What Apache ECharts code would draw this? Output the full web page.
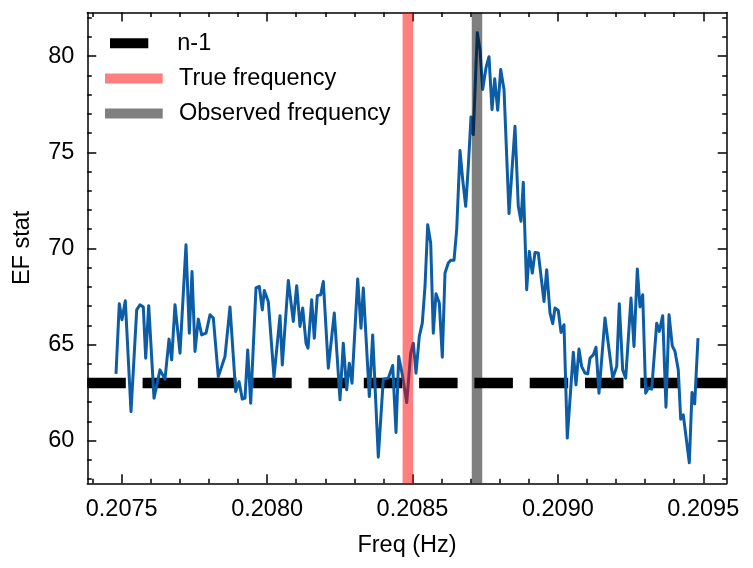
<!DOCTYPE html>
<html><head><meta charset="utf-8">
<script src="https://cdn.jsdelivr.net/npm/echarts@6/dist/echarts.min.js"></script>
<style>html,body{margin:0;padding:0;background:#fff}#c{width:753px;height:568px}</style>
</head><body><div id="c"></div>
<script>
const freq = [0.2074804,0.2074917,0.2075010,0.2075124,0.2075320,0.2075516,0.2075629,0.2075743,0.2075825,0.2075929,0.2076111,0.2076317,0.2076489,0.2076627,0.2076719,0.2076833,0.2077005,0.2077211,0.2077325,0.2077418,0.2077521,0.2077634,0.2077751,0.2077899,0.2078037,0.2078150,0.2078322,0.2078552,0.2078724,0.2078920,0.2079034,0.2079147,0.2079240,0.2079333,0.2079436,0.2079618,0.2079732,0.2079835,0.2079904,0.2080041,0.2080237,0.2080444,0.2080523,0.2080729,0.2080901,0.2081018,0.2081131,0.2081224,0.2081338,0.2081407,0.2081534,0.2081623,0.2081726,0.2081843,0.2081933,0.2082105,0.2082311,0.2082507,0.2082620,0.2082737,0.2082827,0.2082920,0.2083116,0.2083229,0.2083308,0.2083515,0.2083631,0.2083824,0.2083996,0.2084168,0.2084319,0.2084433,0.2084526,0.2084663,0.2084801,0.2084938,0.2085028,0.2085120,0.2085234,0.2085337,0.2085430,0.2085523,0.2085626,0.2085715,0.2085808,0.2085922,0.2086025,0.2086118,0.2086231,0.2086314,0.2086427,0.2086520,0.2086634,0.2086726,0.2086830,0.2086919,0.2087012,0.2087091,0.2087228,0.2087321,0.2087414,0.2087528,0.2087631,0.2087734,0.2087827,0.2087930,0.2088033,0.2088147,0.2088319,0.2088525,0.2088638,0.2088731,0.2088810,0.2088927,0.2089017,0.2089120,0.2089213,0.2089326,0.2089522,0.2089615,0.2089728,0.2089821,0.2089900,0.2090014,0.2090107,0.2090210,0.2090323,0.2090530,0.2090622,0.2090726,0.2090818,0.2090932,0.2091025,0.2091104,0.2091217,0.2091310,0.2091413,0.2091620,0.2091885,0.2092022,0.2092111,0.2092228,0.2092332,0.2092514,0.2092617,0.2092731,0.2092823,0.2092916,0.2093019,0.2093109,0.2093226,0.2093398,0.2093487,0.2093604,0.2093717,0.2093821,0.2093934,0.2094027,0.2094140,0.2094223,0.2094312,0.2094519,0.2094612,0.2094704,0.2094818];
const efStat = [63.47,67.12,66.29,67.28,61.51,66.8,67.07,66.95,64.29,67.02,62.21,63.68,63.2,65.28,64.2,67.07,64.55,70.19,65.59,68.8,64.64,66.32,65.5,65.59,66.55,66.38,63.33,64.38,66.95,62.55,63.07,62.16,62.21,64.72,61.95,67.94,68.02,66.8,67.81,67.24,63.3,66.5,63.94,68.33,66.2,68.06,65.94,66.9,65.07,64.81,67.33,65.33,67.54,67.59,68.28,63.77,66.64,62.12,65.07,62.64,64.03,62.99,68.41,65.85,67.94,62.29,65.5,59.14,63.2,63.25,63.91,60.42,64.38,63.33,61.98,64.55,65.07,63.51,65.42,66.11,68.02,71.23,70.28,65.59,67.64,67.16,64.34,68.72,69.24,69.38,69.38,70.97,75.09,73.58,72.19,74.27,76.84,75.92,81.22,80.35,78.27,79.4,79.97,77.22,78.82,77.19,79.31,78.27,71.81,76.35,72.19,71.41,73.44,67.85,69.84,68.72,69.79,69.76,67.24,68.89,66.64,66.08,66.9,66.77,65.63,66.03,60.13,64.6,62.9,64.76,63.85,63.51,63.47,64.29,64.46,64.86,62.47,66.38,63.25,63.85,67.12,63.68,63.25,67.42,64.9,68.93,66.95,67.59,62.47,62.73,62.68,66.11,65.68,66.5,61.74,66.55,64.93,64.64,63.68,61.11,61.34,58.85,62.5,61.91,65.33];
const nMinus1 = 63;
const trueFreq = 0.2084840;
const observedFreq = 0.2087218;
const xMajorTicks = [0.2075, 0.2080, 0.2085, 0.2090, 0.2095];
const xMinorTicks = [0.2074, 0.2076, 0.2077, 0.2078, 0.2079, 0.2081, 0.2082, 0.2083, 0.2084, 0.2086, 0.2087, 0.2088, 0.2089, 0.2091, 0.2092, 0.2093, 0.2094];
const yMajorTicks = [60, 65, 70, 75, 80];
const yMinorTicks = [58, 59, 61, 62, 63, 64, 66, 67, 68, 69, 71, 72, 73, 74, 76, 77, 78, 79, 81, 82];
const xRange = [0.2073817, 0.2095805];
const yRange = [57.78, 82.27];

const FONT = '"Liberation Sans", Arial, Helvetica, sans-serif';
const FS = 23.5;
const INK = '#000';
const seriesData = freq.map((f, i) => [f, efStat[i]]);
const hLine = (v) => [[xRange[0], v], [xRange[1], v]];
const vLine = (v) => [[v, yRange[0]], [v, yRange[1]]];

function xAx(pos, ticks, len, opts) {
  return Object.assign({
    type: 'value', position: pos, min: xRange[0], max: xRange[1],
    axisLine: { show: true, onZero: false, lineStyle: { color: INK, width: 1.5 } },
    axisTick: { show: true, inside: true, length: len, customValues: ticks, lineStyle: { color: INK, width: 1.5 } },
    axisLabel: { show: false },
    splitLine: { show: false }
  }, opts || {});
}
function yAx(pos, ticks, len, opts) {
  return Object.assign({
    type: 'value', position: pos, min: yRange[0], max: yRange[1],
    axisLine: { show: true, onZero: false, lineStyle: { color: INK, width: 1.5 } },
    axisTick: { show: true, inside: true, length: len, customValues: ticks, lineStyle: { color: INK, width: 1.5 } },
    axisLabel: { show: false },
    splitLine: { show: false }
  }, opts || {});
}

const chart = echarts.init(document.getElementById('c'), null, { renderer: 'canvas' });
const legendBase = (name, left, centerY, w, padLeft) => ({
  data: [name], left: left, top: centerY - 15, padding: 0, orient: 'vertical',
  itemWidth: w, itemHeight: 10, icon: 'rect', selectedMode: false,
  textStyle: { fontFamily: FONT, fontSize: FS, color: INK, lineHeight: 30, padding: [0, 0, 0, padLeft] }
});
const refLine = (name, data, color, z, dash) => ({
  name: name, type: 'line', data: data, z: z, showSymbol: false, symbol: 'none', silent: true,
  clip: true,
  itemStyle: { color: color },
  lineStyle: { color: color, width: 10.5, type: dash || 'solid', cap: 'butt' },
  emphasis: { disabled: true }
});

chart.setOption({
  animation: false,
  backgroundColor: '#fff',
  grid: { left: 87.3, top: 12.5, width: 639.4, height: 470.8, containLabel: false, outerBoundsMode: 'none' },
  legend: [
    legendBase('n-1', 110, 43.3, 38.3, 24),
    legendBase('True frequency', 105, 78.5, 57.7, 11.3),
    legendBase('Observed frequency', 105, 113.5, 57.7, 11.3)
  ],
  xAxis: [
    xAx('bottom', xMajorTicks, 9, {
      axisLabel: { show: true, customValues: xMajorTicks, margin: 14.5, color: INK, fontFamily: FONT, fontSize: FS,
        formatter: v => Number(v).toFixed(4) },
      name: 'Freq (Hz)', nameLocation: 'middle', nameGap: 50,
      nameTextStyle: { color: INK, fontFamily: FONT, fontSize: FS }
    }),
    xAx('bottom', xMinorTicks, 4.5, { axisLine: { show: false } }),
    xAx('top', xMajorTicks, 9),
    xAx('top', xMinorTicks, 4.5, { axisLine: { show: false } })
  ],
  yAxis: [
    yAx('left', yMajorTicks, 9, {
      axisLabel: { show: true, customValues: yMajorTicks, margin: 13, color: INK, fontFamily: FONT, fontSize: FS,
        formatter: v => String(Math.round(v)) },
      name: 'EF stat', nameLocation: 'middle', nameGap: 53, nameRotate: 90,
      nameTextStyle: { color: INK, fontFamily: FONT, fontSize: FS }
    }),
    yAx('left', yMinorTicks, 4.5, { axisLine: { show: false } }),
    yAx('right', yMajorTicks, 9),
    yAx('right', yMinorTicks, 4.5, { axisLine: { show: false } })
  ],
  series: [
    refLine('n-1', hLine(nMinus1), '#000', 1, [38.5, 16.8]),
    {
      name: 'EF', type: 'line', data: seriesData, z: 2, showSymbol: false, symbol: 'none', silent: true,
      lineStyle: { color: '#0C5DA5', width: 3, join: 'round' }, itemStyle: { color: '#0C5DA5' }
    },
    refLine('True frequency', vLine(trueFreq), 'rgba(255,0,0,0.5)', 3),
    refLine('Observed frequency', vLine(observedFreq), 'rgba(0,0,0,0.5)', 3)
  ]
});
</script>
</body></html>
